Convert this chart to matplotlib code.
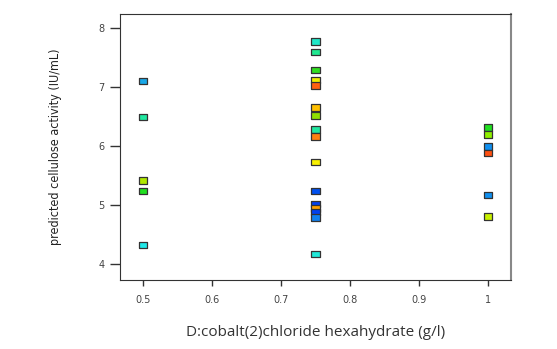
import numpy as np
import matplotlib
matplotlib.use("Agg")
import matplotlib.pyplot as plt

# cobalt chloride level (g/l) and predicted activity (IU/mL)
x_vals = [0.5, 0.5, 0.5, 0.5, 0.5,
          0.75, 0.75, 0.75, 0.75, 0.75, 0.75, 0.75, 0.75,
          0.75, 0.75, 0.75, 0.75, 0.75, 0.75, 0.75, 0.75,
          1.0, 1.0, 1.0, 1.0, 1.0, 1.0]
y_vals = [7.10, 6.49, 5.42, 5.24, 4.32,
          7.77, 7.59, 7.29, 7.12, 7.03, 6.65, 6.52, 6.28,
          6.16, 5.73, 5.24, 5.02, 4.94, 4.88, 4.79, 4.17,
          6.31, 6.20, 5.99, 5.88, 5.17, 4.81]
colors = ['#1aa8e8', '#20e8a0', '#b0e800', '#20e020', '#20e8e8',
          '#20e8c8', '#20e890', '#30e020', '#f0f000', '#ff6010', '#ffc000', '#90e000', '#20e8a0',
          '#ff8010', '#f8f000', '#0050f0', '#0040f0', '#ffa000', '#0040f0', '#1080f0', '#20e8d8',
          '#20e020', '#90f000', '#1090f0', '#ff5010', '#1090f0', '#c8f000']

fig = plt.figure(figsize=(5.57, 3.49), dpi=100)
ax = fig.add_axes([0.2154, 0.1977, 0.702, 0.7622])

rect = [(-1, -0.75), (1, -0.75), (1, 0.75), (-1, 0.75), (-1, -0.75)]
ax.scatter(x_vals, y_vals, marker=rect, s=40, c=colors,
           edgecolors='#333333', linewidths=0.9, zorder=3)

ax.set_xlim(0.4667, 1.0333)
ax.set_ylim(3.73, 8.237)
ax.set_xticks([0.5, 0.6, 0.7, 0.8, 0.9, 1.0])
ax.set_xticklabels(['0.5', '0.6', '0.7', '0.8', '0.9', '1'])
ax.set_yticks([4, 5, 6, 7, 8])

ax.tick_params(axis='x', length=4, width=1, colors='#333333', labelsize=7,
               labelcolor='#444444', pad=7)
ax.tick_params(axis='y', length=7, width=1, colors='#333333', labelsize=7,
               labelcolor='#444444', pad=4)

for s in ['left', 'bottom', 'top']:
    ax.spines[s].set_color('#333333')
ax.spines['right'].set_color('#888888')
ax.spines['right'].set_linewidth(1.5)

ax.set_xlabel('D:cobalt(2)chloride hexahydrate (g/l)', fontsize=11,
              family='Open Sans', color='#333333', labelpad=14)
ax.set_ylabel('predicted cellulose activity (IU/mL)', fontsize=9,
              family='DejaVu Sans', fontstretch='condensed', color='#222222',
              labelpad=26)

plt.savefig('out.png', dpi=100)
